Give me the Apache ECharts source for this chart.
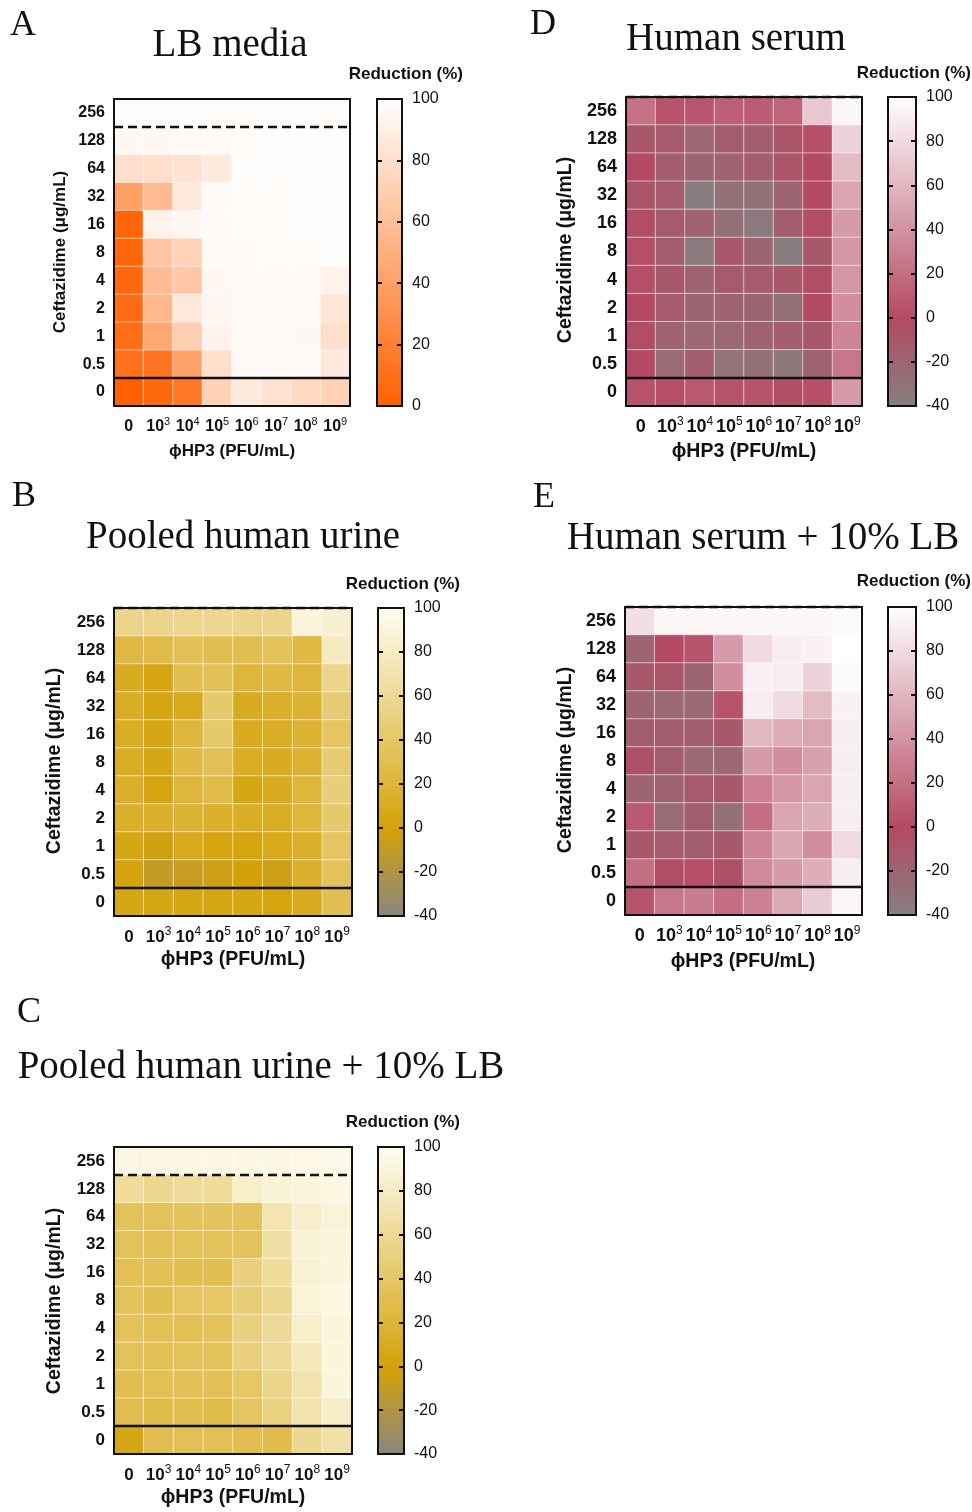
<!DOCTYPE html>
<html>
<head>
<meta charset="utf-8">
<title>Ceftazidime and phage HP3 checkerboards</title>
<script src="https://cdn.jsdelivr.net/npm/echarts@6/dist/echarts.min.js"></script>
<style>
  html, body { margin: 0; padding: 0; background: #ffffff; }
  #chart { width: 972px; height: 1512px; }
</style>
</head>
<body>
<div id="chart"></div>
<script>
// Axis categories
const phageTiters = ['0', '10^3', '10^4', '10^5', '10^6', '10^7', '10^8', '10^9'];
const ceftazidimeLevels = ['0', '0.5', '1', '2', '4', '8', '16', '32', '64', '128', '256'];

// Reduction (%) per well; rows run from 256 µg/mL (top) down to 0, columns from 0 to 10^9 PFU/mL
const lbMedia = [
  [99, 99, 99, 98, 98, 99, 99, 98],
  [95, 95, 96, 97, 98, 99, 99, 99],
  [80, 80, 82, 87, 99, 99, 99, 99],
  [40, 57, 85, 97, 98, 98, 99, 99],
  [4, 92, 95, 97, 98, 98, 99, 99],
  [4, 63, 72, 96, 97, 98, 98, 99],
  [5, 58, 65, 95, 97, 97, 97, 92],
  [7, 55, 85, 94, 96, 96, 97, 84],
  [8, 45, 70, 93, 96, 96, 95, 80],
  [10, 13, 42, 80, 97, 97, 97, 86],
  [0, 5, 15, 72, 87, 82, 76, 72]
];
const pooledUrine = [
  [55, 55, 57, 58, 55, 55, 90, 85],
  [25, 27, 33, 30, 30, 35, 25, 78],
  [10, 4, 30, 34, 22, 25, 22, 55],
  [12, 4, 9, 42, 11, 14, 18, 45],
  [12, 5, 22, 42, 10, 12, 18, 38],
  [12, 5, 25, 33, 12, 10, 18, 45],
  [15, 3, 22, 27, 5, 10, 22, 48],
  [15, 15, 18, 15, 12, 12, 22, 42],
  [5, -2, 8, 3, 3, 8, 15, 38],
  [2, -10, -8, -5, 0, -5, 15, 35],
  [5, 5, 5, 5, 5, 3, 10, 30]
];
const pooledUrineLB = [
  [93, 93, 93, 93, 93, 93, 94, 95],
  [62, 57, 63, 62, 82, 87, 89, 92],
  [35, 35, 36, 36, 36, 72, 83, 88],
  [35, 33, 35, 35, 35, 66, 87, 89],
  [33, 33, 31, 31, 50, 62, 86, 90],
  [35, 31, 38, 40, 48, 58, 88, 92],
  [35, 32, 33, 35, 50, 60, 82, 90],
  [35, 32, 35, 35, 50, 60, 75, 90],
  [30, 32, 33, 33, 40, 55, 70, 90],
  [30, 28, 30, 28, 38, 52, 70, 80],
  [5, 30, 32, 32, 30, 28, 58, 68]
];
const humanSerum = [
  [22, 5, 6, 12, 10, 15, 70, 95],
  [-10, -12, -22, -15, -15, -8, 3, 75],
  [0, -15, -20, -18, -15, -8, 0, 62],
  [-8, -12, -38, -28, -28, -20, 0, 50],
  [-3, -12, -18, -28, -35, -15, -2, 45],
  [2, -15, -35, -10, -20, -38, -10, 42],
  [3, -10, -18, -12, -12, -10, -2, 42],
  [0, -12, -20, -18, -20, -28, 0, 38],
  [-3, -18, -22, -22, -18, -15, -10, 32],
  [0, -25, -15, -30, -28, -33, -18, 25],
  [5, 3, 8, 5, 5, -3, 3, 45]
];
const humanSerumLB = [
  [82, 95, 95, 95, 95, 95, 96, 97],
  [-20, 0, 5, 45, 80, 90, 92, 100],
  [-10, -8, -20, 38, 92, 90, 75, 97],
  [-20, -22, -22, 5, 90, 80, 62, 92],
  [-15, -15, -15, -10, 60, 55, 50, 90],
  [-5, -15, -22, -22, 45, 38, 48, 90],
  [-20, -18, -12, -10, 30, 42, 50, 90],
  [8, -25, -15, -28, 20, 50, 55, 90],
  [-10, -12, -15, -10, 32, 50, 38, 80],
  [20, -2, 2, -5, 35, 45, 55, 90],
  [5, 25, 28, 20, 30, 52, 72, 95]
];

// MIC boundary (in row units from the bottom): between 128 and 256, or above 256
const micLevel = { A: 10, B: 11, C: 10, D: 11, E: 11 };
// Boundary separating the no-antibiotic row
const noDrugBoundary = 1;

// Colour scales
const scales = {
  orange:  { min: 0,   max: 100, anchors: [[0, '#ff6000'], [100, '#ffffff']] },
  gold:    { min: -40, max: 100, anchors: [[-40, '#8a8680'], [0, '#d4a208'], [100, '#fffef4']] },
  crimson: { min: -40, max: 100, anchors: [[-40, '#858080'], [0, '#b44a64'], [100, '#ffffff']] }
};

const SANS = '"Liberation Sans", Arial, sans-serif';
const SERIF = '"Liberation Serif", "Times New Roman", serif';
const INK = '#111111';

const panels = [
  { letter: 'A', title: 'LB media', values: lbMedia, scale: 'orange',
    grid: { left: 114, top: 99, width: 236, height: 307 }, bar: { left: 377, top: 99, width: 25, height: 307 },
    letterPos: [10, 26], titlePos: [230, 46], redPos: [463, 74], yNamePos: [60, 252], xNamePos: [232, 451],
    tickFont: 16, nameFont: 17 },
  { letter: 'D', title: 'Human serum', values: humanSerum, scale: 'crimson',
    grid: { left: 626, top: 97, width: 236, height: 309 }, bar: { left: 888, top: 97, width: 28, height: 309 },
    letterPos: [530, 25], titlePos: [736, 40], redPos: [971, 73], yNamePos: [566, 250], xNamePos: [744, 452],
    tickFont: 18, nameFont: 19.5 },
  { letter: 'B', title: 'Pooled human urine', values: pooledUrine, scale: 'gold',
    grid: { left: 114, top: 608, width: 238, height: 308 }, bar: { left: 378, top: 608, width: 26, height: 308 },
    letterPos: [12, 497], titlePos: [243, 538], redPos: [460, 584], yNamePos: [55, 761], xNamePos: [233, 960],
    tickFont: 17, nameFont: 19.5 },
  { letter: 'E', title: 'Human serum + 10% LB', values: humanSerumLB, scale: 'crimson',
    grid: { left: 625, top: 607, width: 237, height: 308 }, bar: { left: 888, top: 607, width: 28, height: 308 },
    letterPos: [533, 498], titlePos: [763, 539], redPos: [971, 581], yNamePos: [566, 760], xNamePos: [743, 962],
    tickFont: 18, nameFont: 19.5 },
  { letter: 'C', title: 'Pooled human urine + 10% LB', values: pooledUrineLB, scale: 'gold',
    grid: { left: 114, top: 1147, width: 238, height: 307 }, bar: { left: 378, top: 1147, width: 26, height: 307 },
    letterPos: [17, 1013], titlePos: [261, 1068], redPos: [460, 1122], yNamePos: [55, 1301], xNamePos: [233, 1498],
    tickFont: 17, nameFont: 19.5 }
];

function hexToRgb(h) {
  const n = parseInt(h.slice(1), 16);
  return [(n >> 16) & 255, (n >> 8) & 255, n & 255];
}
function colorAt(scale, v) {
  const a = scale.anchors;
  for (let i = 0; i < a.length - 1; i++) {
    const [v0, c0] = a[i], [v1, c1] = a[i + 1];
    if (v <= v1 || i === a.length - 2) {
      const t = Math.max(0, Math.min(1, (v - v0) / (v1 - v0)));
      const p = hexToRgb(c0), q = hexToRgb(c1);
      const m = p.map((x, k) => Math.round(x + (q[k] - x) * t));
      return 'rgb(' + m.join(',') + ')';
    }
  }
}
function rampColors(scale) {
  const out = [];
  for (let v = scale.min; v <= scale.max; v += 5) out.push(colorAt(scale, v));
  return out;
}
function barGradient(scale) {
  return {
    type: 'linear', x: 0, y: 0, x2: 0, y2: 1,
    colorStops: scale.anchors.map(([v, c]) => ({ offset: (scale.max - v) / (scale.max - scale.min), color: c }))
  };
}
function titerLabel(v) {
  const parts = v.split('^');
  return parts.length === 1 ? '{b|' + v + '}' : '{b|' + parts[0] + '}{s|' + parts[1] + '}';
}

const option = {
  backgroundColor: '#ffffff',
  animation: false,
  grid: [], xAxis: [], yAxis: [], series: [], visualMap: [], graphic: []
};
const axisLineStyle = { color: INK, width: 2 };

panels.forEach(p => {
  const scale = scales[p.scale];
  const gHeat = option.grid.length;
  option.grid.push(Object.assign({ show: false }, p.grid));
  const gBar = option.grid.length;
  option.grid.push(Object.assign({ show: true, backgroundColor: barGradient(scale), borderColor: INK, borderWidth: 2 }, p.bar));

  const xCat = option.xAxis.length;
  option.xAxis.push({
    type: 'category', gridIndex: gHeat, data: phageTiters, position: 'bottom', z: 5,
    axisLine: { onZero: false, lineStyle: axisLineStyle },
    axisTick: { alignWithLabel: true, length: 6, lineStyle: axisLineStyle },
    axisLabel: {
      margin: 10, interval: 0, color: INK, formatter: titerLabel,
      rich: {
        b: { fontFamily: SANS, fontWeight: 'bold', fontSize: p.tickFont, color: INK, lineHeight: 22 },
        s: { fontFamily: SANS, fontSize: Math.round(p.tickFont * 0.68), color: INK, verticalAlign: 'top', lineHeight: 12 }
      }
    },
    splitLine: { show: false }
  });
  const xVal = option.xAxis.length;
  option.xAxis.push({
    type: 'value', gridIndex: gHeat, min: 0, max: phageTiters.length, position: 'top', z: 5,
    axisLine: { show: true, onZero: false, lineStyle: axisLineStyle },
    axisTick: { show: false }, axisLabel: { show: false }, splitLine: { show: false }
  });
  option.xAxis.push({ type: 'category', gridIndex: gBar, data: [''], show: false });

  const yCat = option.yAxis.length;
  option.yAxis.push({
    type: 'category', gridIndex: gHeat, data: ceftazidimeLevels, position: 'left', z: 5,
    axisLine: { onZero: false, lineStyle: axisLineStyle },
    axisTick: { alignWithLabel: true, length: 5, lineStyle: axisLineStyle },
    axisLabel: { margin: 9, interval: 0, color: INK, fontFamily: SANS, fontWeight: 'bold', fontSize: p.tickFont },
    splitLine: { show: false }
  });
  // inward half of the concentration ticks, so they cross the axis line
  option.yAxis.push({
    type: 'category', gridIndex: gHeat, data: ceftazidimeLevels, position: 'left', z: 5,
    axisLine: { show: false },
    axisTick: { alignWithLabel: true, inside: true, length: 5, lineStyle: axisLineStyle },
    axisLabel: { show: false }, splitLine: { show: false }
  });
  const yVal = option.yAxis.length;
  option.yAxis.push({
    type: 'value', gridIndex: gHeat, min: 0, max: ceftazidimeLevels.length, position: 'right', z: 5,
    axisLine: { show: true, onZero: false, lineStyle: axisLineStyle },
    axisTick: { show: false }, axisLabel: { show: false }, splitLine: { show: false }
  });
  ['left', 'right'].forEach(side => {
    option.yAxis.push({
      type: 'value', gridIndex: gBar, min: scale.min, max: scale.max, interval: 20, position: side,
      axisLine: { show: false },
      axisTick: { show: true, inside: true, length: 5, lineStyle: axisLineStyle },
      axisLabel: { show: side === 'right', margin: 10, color: INK, fontFamily: SANS, fontSize: 16 },
      splitLine: { show: false }
    });
  });

  const data = [];
  const nRows = p.values.length;
  p.values.forEach((row, r) => row.forEach((v, c) => data.push([c, nRows - 1 - r, v])));
  const sHeat = option.series.length;
  option.series.push({
    type: 'heatmap', name: p.title, xAxisIndex: xCat, yAxisIndex: yCat, data: data,
    itemStyle: { borderColor: 'rgba(255,255,255,0.55)', borderWidth: 1 },
    emphasis: { disabled: true }, progressive: 0, z: 2
  });
  option.visualMap.push({
    type: 'continuous', show: false, seriesIndex: sHeat, dimension: 2,
    min: scale.min, max: scale.max, inRange: { color: rampColors(scale) }
  });
  // Row without antibiotic (solid) and MIC threshold (dashed)
  option.series.push({
    type: 'line', xAxisIndex: xVal, yAxisIndex: yVal, silent: true, clip: false, z: 4,
    data: [[0, noDrugBoundary], [phageTiters.length, noDrugBoundary]], symbol: 'none',
    lineStyle: { color: INK, width: 2.5 }
  });
  option.series.push({
    type: 'line', xAxisIndex: xVal, yAxisIndex: yVal, silent: true, clip: false, z: 4,
    data: [[0, micLevel[p.letter]], [phageTiters.length, micLevel[p.letter]]], symbol: 'none',
    lineStyle: { color: INK, width: 2.5, type: [9, 5] }
  });

  // Texts
  option.graphic.push(
    { type: 'text', x: p.letterPos[0], y: p.letterPos[1],
      style: { text: p.letter, fontFamily: SERIF, fontSize: 36, fill: INK, align: 'left', verticalAlign: 'middle' } },
    { type: 'text', x: p.titlePos[0], y: p.titlePos[1],
      style: { text: p.title, fontFamily: SERIF, fontSize: 39, fill: INK, align: 'center', verticalAlign: 'middle' } },
    { type: 'text', x: p.redPos[0], y: p.redPos[1],
      style: { text: 'Reduction (%)', fontFamily: SANS, fontWeight: 'bold', fontSize: 17, fill: INK, align: 'right', verticalAlign: 'middle' } },
    { type: 'text', x: p.yNamePos[0], y: p.yNamePos[1], rotation: Math.PI / 2,
      style: { text: 'Ceftazidime (μg/mL)', fontFamily: SANS, fontWeight: 'bold', fontSize: p.nameFont, fill: INK, align: 'center', verticalAlign: 'middle' } },
    { type: 'text', x: p.xNamePos[0], y: p.xNamePos[1],
      style: { text: 'ϕHP3 (PFU/mL)', fontFamily: SANS, fontWeight: 'bold', fontSize: p.nameFont, fill: INK, align: 'center', verticalAlign: 'middle' } }
  );
});

const chart = echarts.init(document.getElementById('chart'), null, { renderer: 'canvas', width: 972, height: 1512 });
chart.setOption(option);
</script>
</body>
</html>
